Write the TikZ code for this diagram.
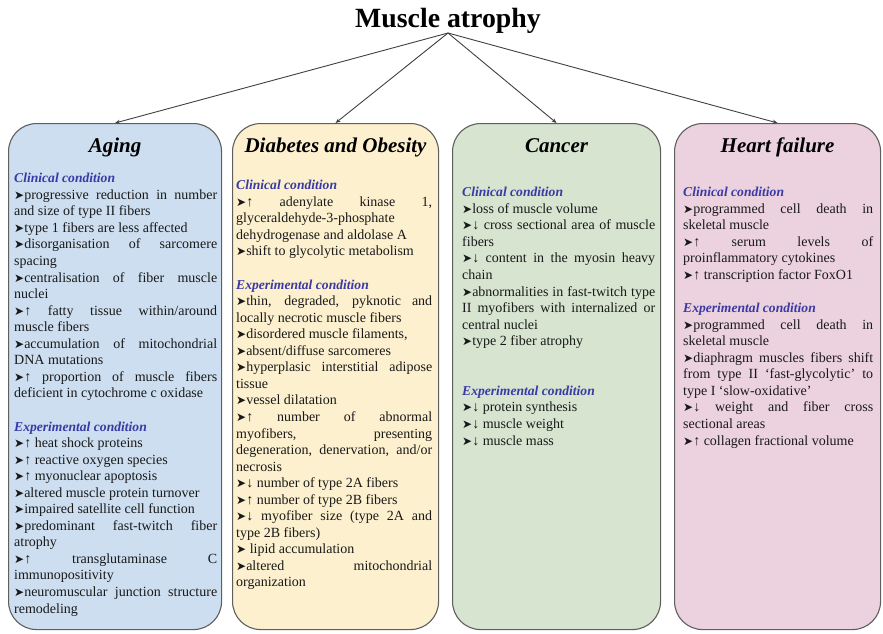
\documentclass[tikz,border=0pt]{standalone}
\usepackage{fontspec}
\setmainfont{Liberation Serif}
\newfontfamily\djv{DejaVu Sans}
\usetikzlibrary{arrows.meta}
\setlength{\parindent}{0pt}
\definecolor{agingfill}{RGB}{204,222,240}
\definecolor{diabfill}{RGB}{252,240,206}
\definecolor{cancfill}{RGB}{214,228,208}
\definecolor{heartfill}{RGB}{236,210,222}
\definecolor{condblue}{RGB}{58,58,165}
\definecolor{edgegray}{RGB}{95,95,95}
\definecolor{txt}{RGB}{25,25,25}
\newlength\mycolw
\newcommand\bul{{\djv\fontsize{12}{10}\selectfont ➤}}
\newcommand\jl[1]{\makebox[\mycolw][s]{\spaceskip=0pt\xspaceskip=0pt #1}\\}
\newcommand\cond[1]{{\fontsize{13.6}{16.55}\selectfont\color{condblue}\bfseries\itshape #1}\\}
\tikzset{
  catbox/.style={draw=edgegray, line width=1.1pt, rounded corners=28pt, anchor=north west,
    minimum height=506pt, inner sep=0pt},
  coltext/.style={anchor=north west, inner sep=0pt, text width=#1, align=justify,
    font=\fontsize{14}{16.55}\selectfont, text=txt},
  cattitle/.style={anchor=base, inner sep=0pt, font=\fontsize{21}{24}\selectfont\bfseries\itshape, text=black},
  conn/.style={draw=black!75, line width=0.9pt, -{Stealth[length=5pt,width=4pt]}}
}
\begin{document}
\begin{tikzpicture}[x=1pt,y=-1pt]
\useasboundingbox (0,0) rectangle (883,633);
\node[anchor=base, inner sep=0pt, font=\fontsize{27.8}{30}\selectfont\bfseries] (title) at (448,27.7) {Muscle atrophy};
\coordinate (apex) at (448,33);

\node[catbox, fill=agingfill, minimum width=213pt] (aging) at (8,123) {};
\node[catbox, fill=diabfill, minimum width=206pt] (diab) at (232,123) {};
\node[catbox, fill=cancfill, minimum width=208pt] (canc) at (452,123) {};
\node[catbox, fill=heartfill, minimum width=206pt] (heart) at (674,123) {};

\draw[conn] (apex) -- (aging.north);
\draw[conn] (apex) -- (diab.north);
\draw[conn] (apex) -- (canc.north);
\draw[conn] (apex) -- (heart.north);

\node[cattitle] (agingt) at (aging.north |- 0,152) {Aging};
\node[cattitle] (diabt) at (diab.north |- 0,152) {Diabetes and Obesity};
\node[cattitle] (canct) at (canc.north |- 0,152) {Cancer};
\node[cattitle] (heartt) at (heart.north |- 0,152) {Heart failure};

\node[coltext=203pt] (agingtxt) at (14,171) {\setlength\mycolw{203pt}\strut\cond{Clinical condition}
\jl{\bul progressive reduction in number}
and size of type II fibers\\
\bul type 1 fibers are less affected\\
\jl{\bul disorganisation of sarcomere}
spacing\\
\jl{\bul centralisation of fiber muscle}
nuclei\\
\jl{\bul{}↑ fatty tissue within/around}
muscle fibers\\
\jl{\bul accumulation of mitochondrial}
DNA mutations\\
\jl{\bul{}↑ proportion of muscle fibers}
deficient in cytochrome c oxidase\\
\strut\\
\cond{Experimental condition}
\bul{}↑ heat shock proteins\\
\bul{}↑ reactive oxygen species\\
\bul{}↑ myonuclear apoptosis\\
\bul altered muscle protein turnover\\
\bul impaired satellite cell function\\
\jl{\bul predominant fast-twitch fiber}
atrophy\\
\jl{\bul{}↑ transglutaminase C}
immunopositivity\\
\jl{\bul neuromuscular junction structure}
remodeling};

\node[coltext=196pt] (diabtxt) at (236,178) {\setlength\mycolw{196pt}\strut\cond{Clinical condition}
\jl{\bul{}↑ adenylate kinase 1,}
glyceraldehyde-3-phosphate\\
dehydrogenase and aldolase A\\
\bul shift to glycolytic metabolism\\
\strut\\
\cond{Experimental condition}
\jl{\bul thin, degraded, pyknotic and}
locally necrotic muscle fibers\\
\bul disordered muscle filaments,\\
\bul absent/diffuse sarcomeres\\
\jl{\bul hyperplasic interstitial adipose}
tissue\\
\bul vessel dilatation\\
\jl{\bul{}↑ number of abnormal}
\jl{myofibers, presenting}
\jl{degeneration, denervation, and/or}
necrosis\\
\bul{}↓ number of type 2A fibers\\
\bul{}↑ number of type 2B fibers\\
\jl{\bul{}↓ myofiber size (type 2A and}
type 2B fibers)\\
\bul{} lipid accumulation\\
\jl{\bul altered mitochondrial}
organization};

\node[coltext=193pt] (canctxt) at (462,185) {\setlength\mycolw{193pt}\strut\cond{Clinical condition}
\bul loss of muscle volume\\
\jl{\bul{}↓ cross sectional area of muscle}
fibers\\
\jl{\bul{}↓ content in the myosin heavy}
chain\\
\jl{\bul abnormalities in fast-twitch type}
\jl{II myofibers with internalized or}
central nuclei\\
\bul type 2 fiber atrophy\\
\strut\\
\strut\\
\cond{Experimental condition}
\bul{}↓ protein synthesis\\
\bul{}↓ muscle weight\\
\bul{}↓ muscle mass};

\node[coltext=190pt] (hearttxt) at (683,185) {\setlength\mycolw{190pt}\strut\cond{Clinical condition}
\jl{\bul programmed cell death in}
skeletal muscle\\
\jl{\bul{}↑ serum levels of}
proinflammatory cytokines\\
\bul{}↑ transcription factor FoxO1\\
\strut\\
\cond{Experimental condition}
\jl{\bul programmed cell death in}
skeletal muscle\\
\jl{\bul diaphragm muscles fibers shift}
\jl{from type II ‘fast-glycolytic’ to}
type I ‘slow-oxidative’\\
\jl{\bul{}↓ weight and fiber cross}
sectional areas\\
\bul{}↑ collagen fractional volume};
\end{tikzpicture}
\end{document}
